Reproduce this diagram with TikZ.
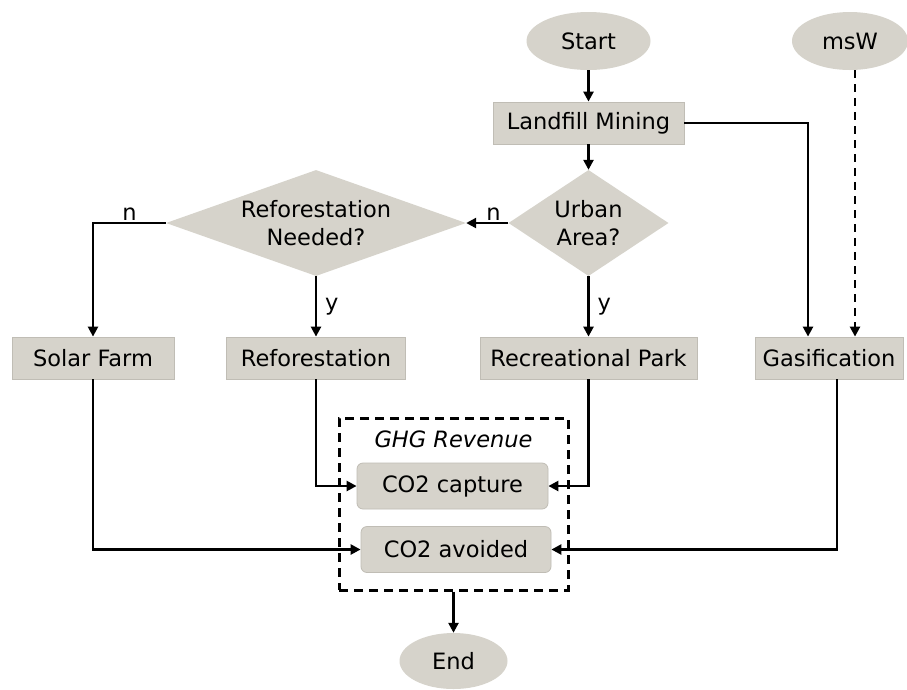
\documentclass[tikz,border=0pt]{standalone}
\usepackage{fontspec}
\setmainfont{DejaVu Sans}
\usetikzlibrary{shapes.geometric,arrows.meta,calc}
\definecolor{boxfill}{RGB}{214,211,203}
\definecolor{boxedge}{RGB}{192,189,181}
\begin{document}
\begin{tikzpicture}[x=1pt,y=-1pt,
  font=\fontsize{22.5}{28}\selectfont,
  proc/.style={rectangle, fill=boxfill, draw=boxedge, line width=0.8pt,
    minimum height=42pt, inner sep=0pt},
  credit/.style={proc, rounded corners=6pt, minimum height=46pt},
  term/.style={ellipse, fill=boxfill, inner sep=0pt},
  decision/.style={diamond, fill=boxfill, inner sep=0pt, align=center,
    minimum height=106pt},
  flow/.style={line width=2.4pt, -{Triangle[length=10pt,width=10pt]}},
  dashflow/.style={flow, dash pattern=on 8pt off 6pt},
  tag/.style={inner sep=1pt}]

\fill[white] (0,0) rectangle (907,689);
\useasboundingbox (0,0) rectangle (907,689);

% terminals
\node[term, minimum width=124pt, minimum height=58pt] (start) at (588.5,41) {Start};
\node[term, minimum width=116pt, minimum height=58pt] (msw) at (850,41) {msW};
\node[term, minimum width=108pt, minimum height=56pt] (end) at (453.5,661) {End};

% process steps
\node[proc, minimum width=191pt] (landfill) at (588.5,123) {Landfill Mining};
\node[proc, minimum width=162pt] (solar) at (93,358) {Solar Farm};
\node[proc, minimum width=179pt] (refo) at (316,358) {Reforestation};
\node[proc, minimum width=217pt] (rec) at (588.5,358) {Recreational Park};
\node[proc, minimum width=148pt] (gas) at (829,358) {Gasification};

% decisions
\node[decision, minimum width=160pt, aspect=1.5] (urban) at (588.5,223) {Urban\\Area?};
\node[decision, minimum width=300pt, aspect=2.83] (needed) at (316,223) {Reforestation\\Needed?};

% GHG revenue group
\node[draw, dash pattern=on 9pt off 6pt, line width=3pt, minimum width=229pt,
  minimum height=172pt, inner sep=0pt] (ghg) at (453.5,504) {};
\node[font=\fontsize{22.5}{26}\selectfont\itshape] (ghgtitle) at (453.5,439) {GHG Revenue};
\node[credit, minimum width=191pt] (capture) at (452.5,486) {CO2 capture};
\node[credit, minimum width=190pt] (avoided) at (456,549.5) {CO2 avoided};

% connection points on Gasification
\coordinate (gasin) at ($(gas.north)+(-21,0)$);
\coordinate (gasdash) at ($(gas.north)+(26,0)$);
\coordinate (gasout) at ($(gas.south)+(8,0)$);

% connectors
\draw[flow] (start) -- (landfill);
\draw[flow] (landfill) -- (urban);
\draw[flow] (landfill.east) -| (gasin);
\draw[dashflow] (msw.south -| gasdash) -- (gasdash);
\draw[flow] (urban.west) -- node[tag, above, pos=0.35] {n} (needed.east);
\draw[flow] (urban.south) -- node[tag, right, xshift=7pt] {y} (rec.north);
\draw[flow] (needed.west) -| node[tag, above, pos=0.25] {n} (solar.north);
\draw[flow] (needed.south) -- node[tag, right, xshift=7pt] {y} (refo.north);
\draw[flow] (refo.south) |- (capture.west);
\draw[flow] (rec.south) |- (capture.east);
\draw[flow] (solar.south) |- (avoided.west);
\draw[flow] (gasout) |- (avoided.east);
\draw[flow] (ghg.south) -- (end.north);

\end{tikzpicture}
\end{document}
